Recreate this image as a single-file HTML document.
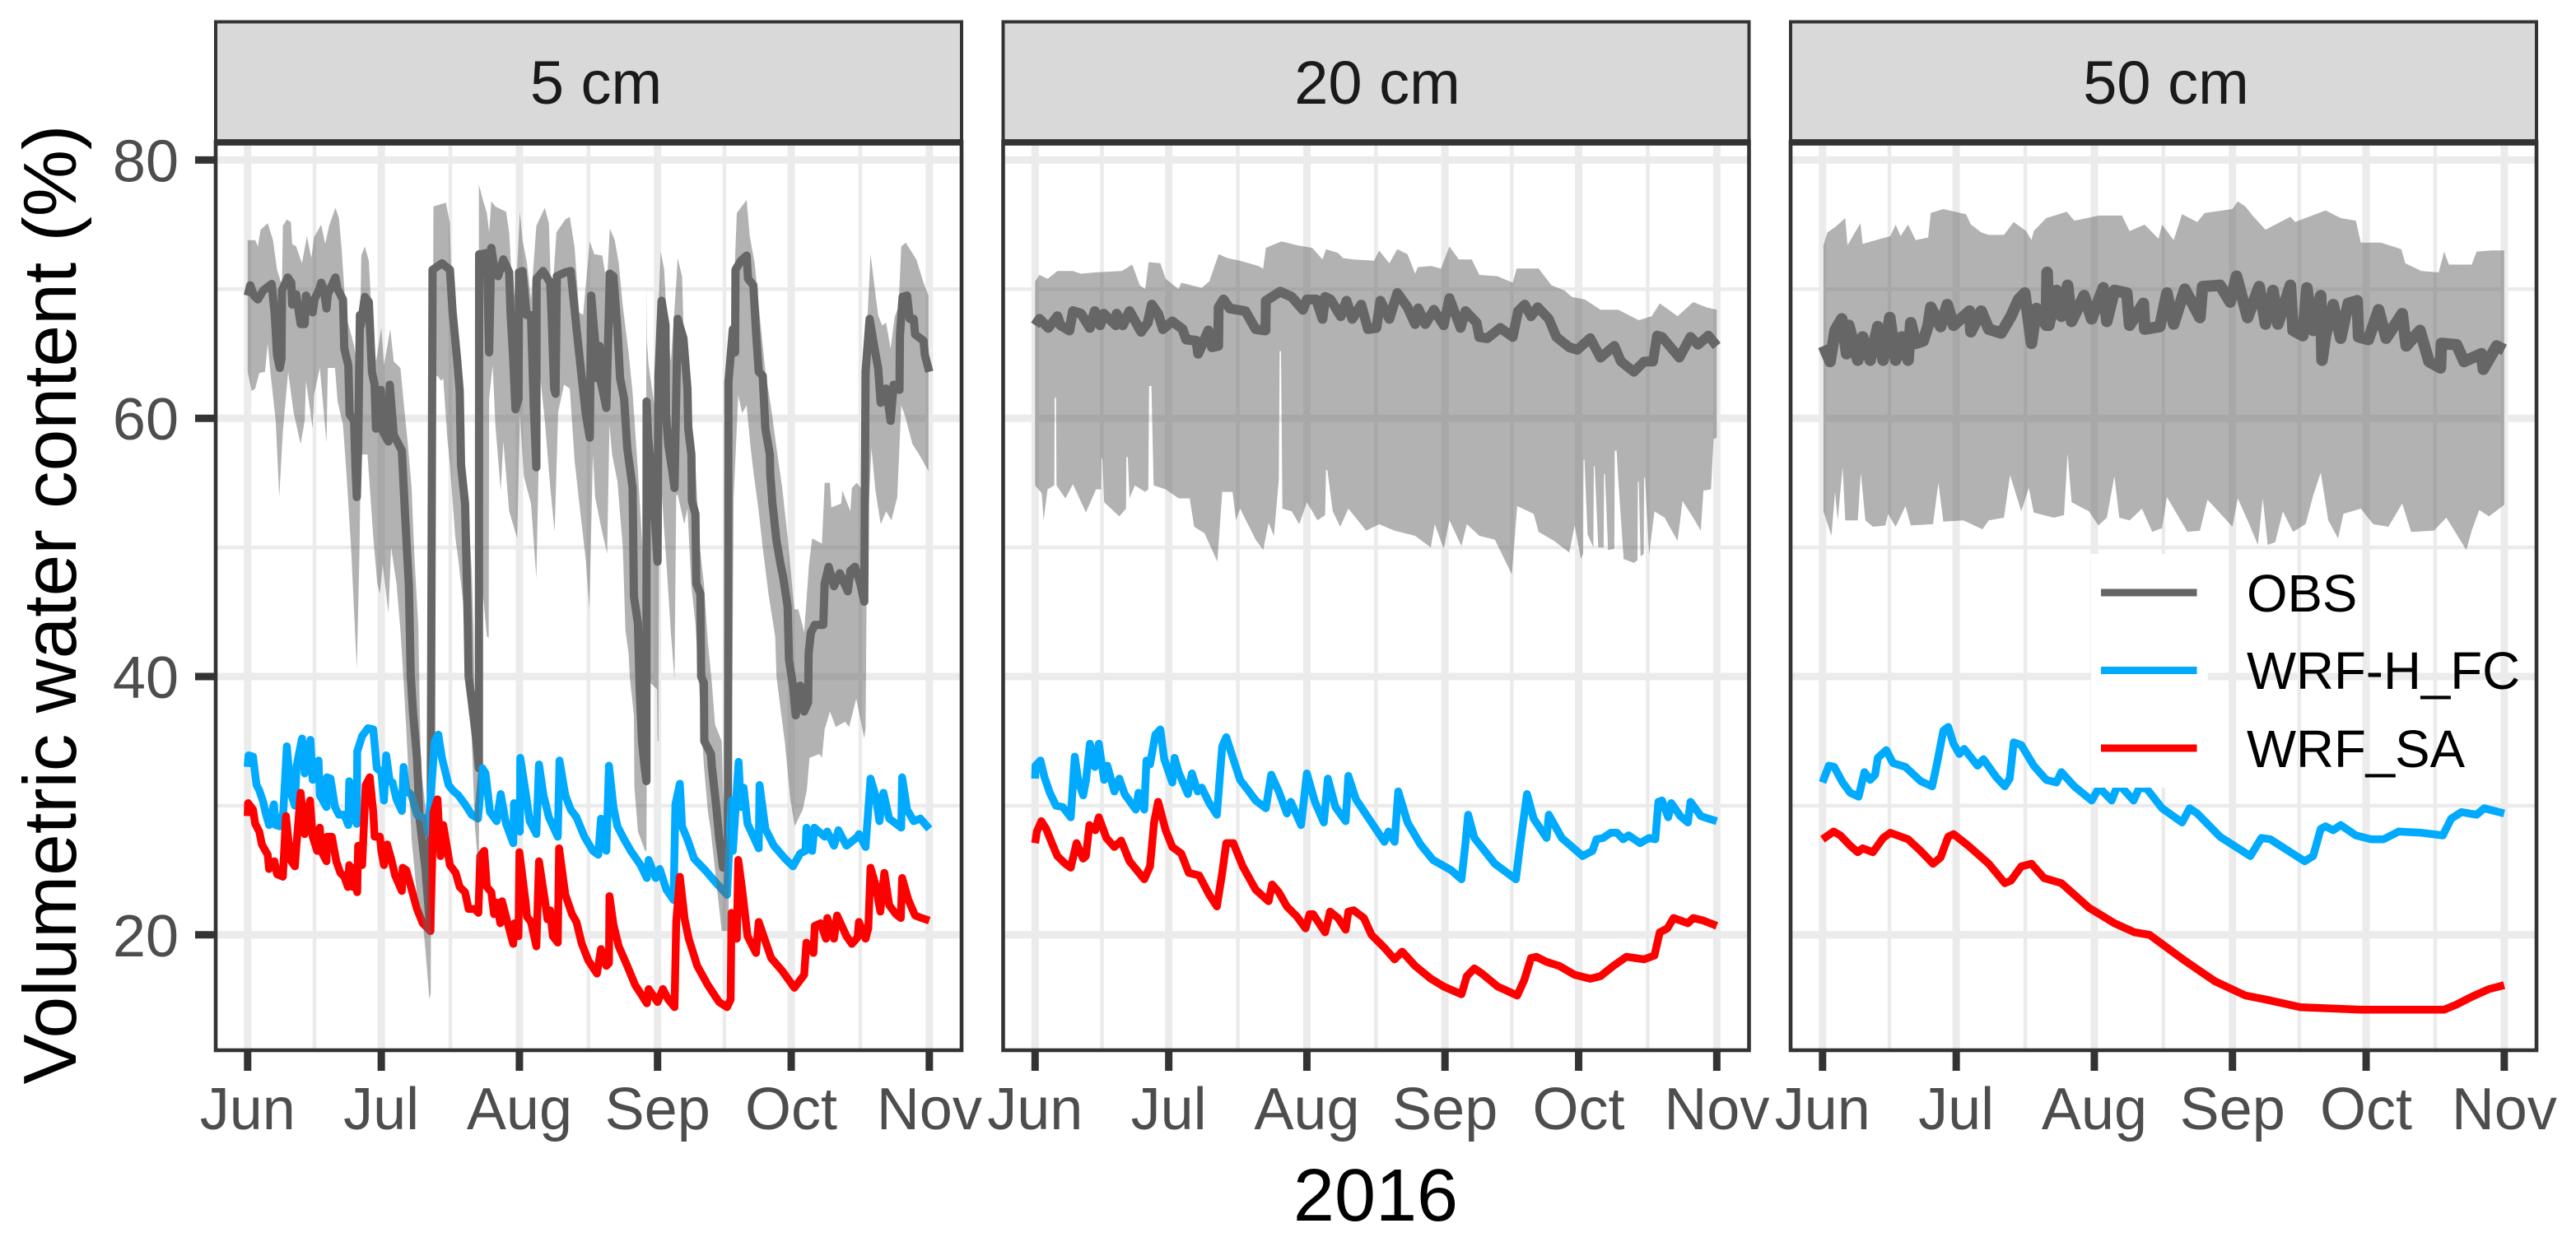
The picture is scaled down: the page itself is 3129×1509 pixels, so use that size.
<!DOCTYPE html>
<html lang="en">
<head>
<meta charset="utf-8">
<title>Volumetric water content at three depths, 2016</title>
<style>
html,body{margin:0;padding:0;background:#fff;}
svg{display:block;font-family:"Liberation Sans",Arial,sans-serif;}
</style>
</head>
<body>
<svg id="chart" xmlns="http://www.w3.org/2000/svg" width="3129" height="1509" viewBox="0 0 3129 1509">
  <defs id="clips"></defs>
  <rect x="0" y="0" width="3129" height="1509" fill="#fff"/>
  <g id="panels"></g>
  <text transform="translate(92,734.5) rotate(-90)" text-anchor="middle" font-size="91.2" fill="#000">Volumetric water content (%)</text>
  <text x="1671" y="1483" text-anchor="middle" font-size="90" fill="#000">2016</text>
  <g>
    <rect x="2540" y="673" width="142" height="284" fill="#fff"/>
    <line x1="2552" x2="2668.5" y1="720" y2="720" stroke="#666666" stroke-width="9"/>
    <line x1="2552" x2="2668.5" y1="814.5" y2="814.5" stroke="#00AAFF" stroke-width="9"/>
    <line x1="2552" x2="2668.5" y1="909" y2="909" stroke="#FF0000" stroke-width="9"/>
    <text x="2729" y="743" font-size="63.6" fill="#000">OBS</text>
    <text x="2729" y="837" font-size="63.6" fill="#000">WRF-H_FC</text>
    <text x="2729" y="932" font-size="63.6" fill="#000">WRF_SA</text>
  </g>
</svg>
<script>
// Categories and tick labels
const panelTitles = ["5 cm", "20 cm", "50 cm"];
const monthLabels = ["Jun", "Jul", "Aug", "Sep", "Oct", "Nov"];
const monthDays = [0, 30, 61, 92, 122, 153];
const minorDays = [15, 45.5, 76.5, 107, 137.5];
const yMajorTicks = [20, 40, 60, 80];
const yMinorTicks = [30, 50, 70];

// Each point is [days since 1 June 2016, volumetric water content in %]
const blue5 = [[0,33],[0.2,33.9],[1.2,33.8],[2,31.6],[2.6,31.2],[3.5,30.3],[4,29.5],[4.8,28.5],[5.9,30.1],[6.3,28.5],[7.2,28.4],[8,29.5],[8.8,34.6],[9.7,31],[10.6,30],[11,33.1],[12.2,35.2],[12.8,32.5],[14.1,35.1],[14.6,32],[15.9,33.5],[16.2,30.8],[17.7,29.9],[17.8,32.2],[18.6,32.1],[19.6,29.9],[20.5,29.3],[21.7,29.3],[22.6,28.5],[22.8,31.9],[23.6,29.3],[24.5,28.6],[24.6,34.2],[25.7,35.4],[27,36],[28.2,35.9],[29,32.9],[30,32.6],[30.6,30.4],[31.1,33.9],[31.9,31.9],[32.5,31.8],[33.4,30.5],[34.6,29.6],[35,33],[35.6,31.2],[36.8,30.8],[38,29.3],[39.9,29],[40.5,27.9],[42,35],[42.8,35.5],[43.6,33.7],[45.1,31.6],[46,31.2],[47.3,30.8],[48.8,30.1],[50.3,29.3],[51.7,29],[52.7,32.9],[53.4,32.5],[54.4,29.5],[55.9,28.8],[56.8,30.9],[58,28.6],[59.6,27.1],[59.8,30.2],[61.1,28],[61.2,33.7],[62.5,30.8],[63.3,28.8],[64.8,27.8],[65.4,33.2],[66.4,30.8],[67.6,29.1],[69.6,27.6],[70,33.5],[71.3,30.8],[72.5,29.7],[73.8,29.1],[75.6,27.6],[77.5,26.5],[78.7,26.2],[79.3,29],[80.5,26.5],[81.1,33.1],[82.1,29.9],[83,28.4],[84.5,27.4],[86,26.5],[88.2,25.4],[89.6,24.4],[90,25.8],[91.6,24.4],[92.5,25.1],[94,23.5],[95.6,22.7],[96,30.1],[97,31.7],[97.5,28.4],[98.7,27.4],[100.2,25.9],[102.7,25],[105.2,24],[107.6,23.1],[108.6,30.4],[108.9,26.5],[110.2,33.4],[110.7,29.9],[111.3,31.4],[112.2,28.6],[113.8,27.4],[114.7,26.7],[114.9,31.6],[116.2,28.2],[118.1,26.9],[120.6,25.9],[122.4,25.3],[124,26.3],[125.2,26.5],[125.4,28.3],[126.7,26.5],[127.2,28.3],[129.5,27.6],[130.1,28],[131.6,26.9],[132.6,28.1],[134.4,26.9],[136.9,27.6],[137.2,27.8],[138.7,26.8],[139.8,32.1],[140.9,30.8],[141.8,28.8],[142.7,31],[144,29],[146.7,28.3],[146.9,32.2],[148,29.7],[149.5,28.8],[151,29],[153,28.2]];

const red5 = [[0,29.2],[0.1,30.2],[1.2,29.7],[1.7,28.6],[2.6,28],[3.2,27],[4.5,26.2],[4.8,25.1],[6,25.7],[6.6,24.7],[7.9,24.5],[8.6,29.2],[9.4,26.5],[9.8,25.7],[10.6,25.3],[10.9,26.7],[11.9,31],[12.8,27.8],[14,30.4],[14.6,27.6],[15.6,26.5],[16.2,28.3],[16.5,26.5],[17.7,25.7],[17.8,27.6],[18.9,27.6],[19.9,25.7],[20.8,24.8],[21.7,24.5],[22.5,23.7],[22.8,25.4],[23.6,23.7],[23.9,25.2],[24.6,23.3],[24.8,26.9],[25.7,25.4],[26.5,31.6],[27.4,32.2],[28.2,29.5],[28.5,27.6],[29.7,27.6],[30,26.5],[30.6,25.4],[31.3,27],[32.2,25.9],[33.1,24.6],[34.6,23.4],[34.8,25.2],[35.6,25],[36.8,23.5],[38,22],[39.3,20.9],[41,20.3],[41.7,29.5],[42.6,30.5],[43.3,26.1],[43.9,28.5],[45.4,25.4],[46.7,24.8],[47.6,23.7],[48.8,23.3],[49.6,22],[51,22],[51.8,21.7],[52.2,26.1],[53.1,26.5],[53.7,23.7],[54.7,23.3],[55.3,21.6],[55.9,22.5],[56.7,20.9],[57.1,22.6],[58.3,21],[59.6,19.3],[59.9,20.9],[60.8,19.9],[61,26.4],[62.4,22.5],[62.7,21.4],[63.6,21],[64.8,19.1],[65.4,25.7],[66.7,22.7],[67.3,21.2],[67.9,21.9],[68.5,19.9],[69.6,19.4],[69.9,26.7],[71.3,23.1],[72.8,21.6],[73.8,21],[75,19.3],[76.5,18],[78.4,17],[79.3,18.9],[80.5,17.6],[81.1,17.8],[81.2,23],[82.1,20.8],[83.3,19.1],[85.2,17.6],[87,16.1],[88.5,15.3],[89.6,14.7],[90,15.8],[92,14.8],[93.2,15.8],[94.4,15],[95.8,14.4],[96.2,21],[97,24.5],[98.1,21.2],[99,19.7],[100.9,17.6],[103.3,16.1],[105.8,14.8],[107.6,14.4],[108.4,15],[108.6,21.7],[109.8,19.7],[110.1,25.8],[111,23.5],[112.2,19.9],[114.1,18.6],[114.7,21],[116,19.7],[117.5,18.2],[120,17.2],[122.7,15.9],[124.9,16.9],[125.4,19.4],[127,18.6],[127.3,20.7],[128.6,20.9],[129.8,19.7],[130.1,21.3],[131.6,19.7],[132.3,21.5],[134.4,19.9],[135.6,19.3],[136.9,19.8],[137.2,21],[138.7,19.7],[139.3,20.5],[139.8,25.2],[140.9,23.9],[142,21.8],[142.9,24.8],[144,22.3],[145.5,21.6],[146.6,21.3],[146.9,24.4],[148.3,22.7],[149.8,21.5],[151.3,21.3],[153,21.1]];

const obs5 = [[0,69.5],[0.6,70.3],[1.4,69.5],[2.3,69.2],[3.5,69.9],[5.4,70.4],[6.1,68],[6.6,64.9],[7.2,63.9],[7.6,64.6],[7.7,69.9],[9,70.9],[9.8,70.5],[10,68.8],[10.9,69.6],[11.9,67.3],[12.8,67.3],[13.1,69.5],[14.6,68.2],[15,69.2],[16.2,70.1],[16.5,70.5],[17.1,70],[17.7,68.5],[18,69.6],[19.7,70.9],[20.2,70],[21.4,69.2],[21.7,65.4],[22.6,64.1],[22.9,60.3],[23.9,59.8],[24.2,56.2],[24.5,53.9],[24.8,57.7],[25.2,68],[25.4,67.2],[26.3,69.4],[27.2,69],[27.9,63.6],[28.5,62.6],[28.8,59.2],[29.9,62.2],[30.3,59],[31.6,58.2],[31.9,62.6],[32.8,58.7],[34.6,57.5],[35.3,52.8],[36.2,47],[36.6,40.1],[37.1,37.3],[38,33.7],[38.6,29],[39.9,25.2],[41,20.3],[41.5,71.5],[43.6,72],[45.4,71.5],[46,68.2],[47,64.6],[47.6,62.1],[47.9,56.4],[48.8,53.4],[49.1,49],[49.4,44],[49.6,40],[51.1,35.9],[51.9,32.9],[51.95,72.7],[52.5,72.7],[53.7,72.8],[54.2,65.1],[54.7,73.2],[55.4,71.5],[56.2,71],[57.4,72.3],[58.7,71.3],[59,68.2],[59.6,64.6],[60.1,60.7],[60.8,61.5],[60.9,71.3],[61.7,71.4],[62.6,68],[63.6,68],[64.2,61],[64.8,56.2],[64.85,70.8],[66.3,71.4],[67.9,70.5],[68.2,68.2],[68.8,62.3],[69.1,61.9],[69.4,71],[71.3,71.3],[72.5,71.4],[73.8,67],[75,63.1],[75.9,60.3],[76.8,58.5],[77.1,69.5],[78,65.9],[78.4,63.1],[79,65.6],[79.3,62.8],[80.5,60.8],[81.3,71.2],[82.1,71],[83,66.9],[83.6,63.1],[84.5,61.5],[85.2,57.7],[86.4,54.6],[86.7,46.2],[87.6,44.1],[88,38.8],[88.5,35],[89.1,33],[89.5,31.9],[89.55,61.3],[89.9,58.5],[91,54.4],[92,48.9],[92.2,63.3],[92.9,69.1],[93.8,67.2],[93.9,60.3],[94.4,58],[95.3,55.9],[95.8,54.6],[96.5,67.7],[97.8,66.2],[98.7,62.3],[98.9,59.2],[99.6,57.2],[99.7,53.6],[100.5,52.6],[100.7,47.2],[101.6,46.4],[101.8,40],[102.4,39.5],[102.5,35],[104,34],[104.2,33],[105.2,29.9],[105.8,27.6],[106.7,25.2],[107.4,25.2],[107.8,25.3],[107.9,62.8],[108.9,66.9],[109.4,65.1],[109.5,71.5],[110.7,72.2],[112,72.6],[112.3,70.8],[113.5,70.3],[114.1,66.7],[114.7,63.6],[115.6,63.3],[116.2,59.2],[117.2,57.2],[117.3,55.7],[117.8,53.4],[118.7,50.5],[119.6,48.7],[120.2,47.7],[121.2,45.4],[121.5,41.3],[122.4,39.3],[123,37],[124,39.3],[124.9,37.3],[125.8,38],[125.9,41.8],[126.4,43.4],[127.3,44],[129.2,44],[129.5,47.2],[130.4,48.5],[131.6,47],[132.9,48],[134.7,46.6],[135.3,48.2],[136.3,48.5],[137.5,47.2],[138.4,45.8],[138.7,63.6],[139.6,67.7],[140.6,65.6],[141.5,63.9],[142.1,61.2],[143.3,62.3],[144.3,59.8],[145,62.6],[146.3,62.2],[146.4,66.4],[147,69.4],[148,69.5],[148.6,67.7],[149.5,67.7],[149.8,66.5],[151.7,66],[152,64.9],[153,63.6]];

const obsHigh5 = [[0,73.8],[1.7,73.8],[2.3,73.3],[2.9,74.6],[4.5,75.1],[5.7,73.8],[6.6,71.5],[7.7,70.3],[7.9,74.9],[8.8,75.4],[9.7,75.2],[10,73.5],[10.9,73.3],[12.2,72],[13.3,74.1],[14.3,72.4],[14.9,74],[16.5,75],[17.4,73.5],[18.3,74.9],[19.7,76.3],[20.5,75.5],[21.1,73.1],[21.7,70],[22.3,67.7],[23.9,65.6],[25.1,62.6],[25.5,72.6],[26.3,73.3],[27.2,72.2],[27.6,69.5],[28.8,64.4],[30,67],[30.6,64.1],[32,66.9],[32.8,64.4],[34.3,63.9],[35,61.3],[35.9,58.2],[36.8,54.6],[37.4,49.5],[38.3,43.9],[38.6,38],[38.9,33],[40.5,28],[41.1,20.3],[41.7,76.4],[44.5,76.7],[45.4,75.1],[45.7,71.3],[46.6,68.7],[47.3,64.4],[48,62.6],[48.5,56.9],[49.4,53.4],[50.3,48.2],[50.7,43.6],[51,37],[51.8,33],[51.9,78.1],[52.2,77.7],[52.8,76.9],[53.7,75.9],[54.2,74.4],[54.7,76.8],[55.6,76.4],[58,76],[58.7,74.4],[59.6,68.7],[60.5,71.8],[61.1,76],[61.7,73.8],[62.7,72],[63.6,69.2],[64.8,74.9],[66.7,76.3],[67.6,75.1],[68.2,68.7],[69.3,74.4],[71.3,75.4],[72.3,75.6],[73.4,73.2],[74.4,68.2],[75.3,68],[76.8,73.7],[77.8,72.7],[79.6,72.6],[80.2,71.3],[80.8,71.5],[81.3,74.7],[82.4,73.8],[83.3,72],[84.2,68.7],[85.5,65.1],[86.4,62],[87.6,55.9],[88.5,50.5],[89,47],[89.4,45],[89.45,60],[89.5,70.3],[89.6,66],[90,64.1],[91.3,61],[92.7,72.9],[93.5,71.5],[94.1,67.4],[95,64.4],[96.2,70.5],[96.5,72.4],[97.5,71],[97.8,67.4],[99,62],[100.2,58.2],[101.5,50],[102.4,47.2],[103.3,42.6],[104.2,39.5],[104.9,36.3],[106.4,35],[106.7,31],[107.6,27.5],[107.9,27],[108.2,60],[108.9,68],[109.8,75.9],[112,76.9],[112.7,74.1],[113.8,72],[115,67.7],[116.2,63.6],[117.5,60.8],[118.7,57.7],[120,54.6],[121.2,50.8],[122.7,45.2],[123.6,45.2],[124.6,43.9],[124.9,43.4],[126,48.7],[126.7,50.7],[128.9,50.3],[129.5,55],[130.7,55],[131,53.1],[133.2,53.4],[133.5,54.4],[135.3,52.8],[135.6,54.6],[136.7,55],[138.1,54.4],[138.4,62.6],[139.8,72.7],[140.6,70.5],[141.5,68],[142.4,67.2],[143.3,67.4],[144.3,65.4],[145.2,67.8],[146.1,68.7],[146.7,73.3],[147.7,73.6],[150.1,72.3],[151.7,70.5],[152.8,69.5]];

const obsLow5 = [[0,63.6],[0.9,62.1],[1.7,62.3],[2.6,63.5],[3.9,63.6],[4.5,65.8],[5.1,63.6],[6.3,59.8],[7.1,53.9],[7.9,59],[9.1,63.6],[10.3,60.5],[11.9,58],[12.8,59.8],[13.1,62.9],[14.6,59.2],[14.9,61.8],[16.2,63.9],[16.8,61.6],[17.7,58.1],[18,63.9],[19.6,63.9],[20.2,61.3],[21.4,59.5],[22.3,55.1],[23.2,50],[24.5,40.6],[25.1,49.5],[25.4,57.2],[26.9,57.2],[28.2,50.8],[29.1,47.2],[29.7,46.4],[30.3,48.7],[31.6,44.9],[32.2,50],[33.4,47.2],[34.3,43.6],[35,39.7],[35.6,35.9],[36.8,27.4],[38,23],[39.3,21],[39.9,18.9],[40.8,15],[41.1,15.5],[41.6,63],[42.6,63.3],[43.4,62.9],[43.9,63.1],[44.8,58.5],[45.4,56.4],[46.6,50.8],[47.3,49],[48.8,44.4],[49.1,39],[49.4,37.9],[50.3,35.2],[51,28.4],[51.9,24.8],[52.1,46],[52.8,46.4],[53.7,43.1],[54.1,43],[54.2,61.5],[55,64.1],[55.6,59.5],[56.8,54.4],[57.4,58.2],[58.7,52.8],[60.5,50.7],[61.1,60.3],[62,55.5],[63.6,53.4],[64.8,47.6],[65.7,63.1],[66.7,59.8],[67.9,54.7],[68.9,51.2],[69.7,60.5],[71,62.6],[72.3,62.3],[73.4,56.7],[74.7,52.6],[75.9,49],[76.7,45.2],[77.5,57.2],[78,53.9],[79.3,51.6],[80.7,49.5],[81.2,59.5],[81.8,57.2],[83,55.1],[84.2,50],[84.8,43.6],[85.5,41.8],[85.8,39.9],[86.7,37],[86.8,31.4],[87.6,28],[89.2,26.5],[89.5,26.5],[89.7,44],[90.4,39.5],[91.9,39],[92,35],[92.2,35],[92.4,60],[92.9,54.4],[94.1,48.2],[95,43.4],[95.8,39.8],[96.2,54],[96.5,54.1],[98,51.8],[98.7,53],[99.6,47],[100.5,44.1],[101.2,40],[102.4,33.1],[103.3,29.5],[103.9,28.2],[105.5,23.1],[106.4,20.3],[107.6,20.3],[107.9,20.3],[108.2,30],[108.8,40],[109.1,53.9],[110.1,61.8],[111,60.4],[112,61],[112.9,57.7],[113.5,55.9],[114.7,52.8],[115.6,50],[116.9,46.4],[118.4,43.1],[118.7,40],[120.6,34.8],[121.8,30.5],[122.8,28.4],[124.6,29.7],[125.5,31.2],[126.1,33.7],[128.3,34],[128.9,33.7],[129.5,35.9],[130.7,37.3],[132,36.1],[134.1,36.5],[135,36.1],[136.6,38.3],[137.5,36.7],[138.4,35.2],[138.7,36],[139,50],[140,57.7],[140.9,54.4],[142.1,51.8],[143.3,52.8],[144.5,52.1],[145.8,53.9],[146.7,61],[147.7,60],[149.2,58],[150.7,57.2],[152.8,55.9]];

const blue20 = [[0,32.1],[0.1,33.1],[1.2,33.5],[2.1,32.2],[3.3,31],[4.7,30],[6.2,29.9],[8,29.1],[8.9,33.8],[9.7,31.9],[10.8,30.8],[11.4,31.9],[12.3,34.8],[13.4,33],[14.3,34.8],[15.5,32],[16.2,33.1],[17.8,31.1],[18.9,32.1],[20.1,30.9],[22.6,29.7],[23.2,31],[24.5,29.7],[25,33.5],[25.8,33.2],[27,35.5],[28.1,35.9],[29,33.6],[30.8,31.8],[31.3,33.7],[32.2,32.6],[34.3,30.9],[35.2,32.5],[36.5,31.1],[37.4,31.4],[39.1,30.2],[40.8,29.3],[42,34.6],[42.9,35.3],[44.3,33.8],[46,32],[47.8,31.2],[49.5,30.4],[51.8,29.8],[53,32.4],[54.7,31.1],[56.5,29.4],[57.4,30.3],[59.7,28.5],[61,32.5],[62.8,30.3],[64.8,28.7],[65.7,32.1],[67.4,29.9],[69.7,28.8],[70.3,32.3],[72,30.5],[74.9,29],[78.4,27.2],[79.3,28],[80.7,27.2],[81.5,31.1],[83.6,28.7],[86.5,27],[89.3,25.8],[93.4,25],[95.7,24.3],[96.5,26.8],[97.2,29.3],[98.6,27.5],[103.2,25.5],[107.9,24.3],[108.8,26.8],[110.4,30.9],[111.9,29],[114.8,27.5],[115.3,29.3],[118.2,27.5],[122.9,26.1],[125.1,26.5],[126,27.4],[127.5,27.5],[129.2,27.9],[130.6,27.9],[132,27.4],[133.2,27.7],[135.8,27.1],[137.8,27.5],[139.2,27.4],[139.9,30.3],[140.7,30.4],[142.1,29.1],[142.8,30.2],[144.8,29.2],[146.5,28.7],[147.1,30.3],[149.4,29.2],[151.1,29],[153,28.8]];

const red20 = [[0,27.1],[0.4,28],[1.4,28.8],[2.5,28.2],[3.9,27],[5,26.1],[6.8,25.5],[8,25.2],[9.3,27.1],[10.8,25.9],[11.4,26.1],[12.2,28.5],[13.5,28.1],[14.3,29.1],[16,27.5],[17.8,26.8],[19.3,27.3],[21.2,25.7],[24.5,24.3],[25.8,25.3],[26.7,28.7],[27.6,30.3],[29.3,28.1],[30.8,26.8],[32.8,26.3],[34.5,24.8],[36.8,24.6],[39.1,23.1],[40.8,22.2],[42,24.8],[42.9,27.1],[44.5,27.1],[46.6,25.3],[49.5,23.5],[52.4,22.6],[53.2,23.9],[54.7,23.3],[56.5,22.2],[58.8,21.4],[60.7,20.5],[61.6,21.6],[62.4,21.6],[65.1,20.2],[66.2,21.8],[68,21.3],[69.7,20.4],[70.3,21.8],[71.5,21.9],[73.8,21.3],[75.5,20],[78.4,19],[80.7,18.1],[82.4,18.7],[85.3,17.6],[88.8,16.6],[91.7,16],[95.7,15.4],[96.9,16.8],[98.6,17.4],[100.3,17],[103.8,16],[108.2,15.3],[109.8,16.5],[111.3,18.2],[112.5,18.3],[114.8,17.9],[117.6,17.6],[121.1,16.9],[124.6,16.6],[126.9,16.8],[129.8,17.6],[132.7,18.3],[136.7,18.1],[139,18.4],[140.2,20.2],[141.9,20.5],[143.3,21.3],[146.5,20.9],[147.7,21.3],[150,21.1],[153,20.7]];

const obs20 = [[0,67.2],[1,67.7],[3,67],[5,67.9],[5.7,67.2],[7.7,66.8],[8.5,68.3],[10.3,68.1],[12.3,67],[13.4,68.3],[14.6,67.2],[15.4,68.1],[18.1,67.2],[18.3,68.1],[19.7,67.2],[21.2,68.3],[23.8,66.7],[25.3,67.4],[26.2,68.8],[27.6,68.1],[28.7,66.9],[30.8,67.5],[33.1,66.9],[33.9,66.1],[36.2,66],[36.6,65],[38.9,66.8],[39.7,65.5],[41.1,65.6],[41.2,68.6],[42.3,69.2],[43.7,68.5],[47.2,68.3],[49.5,66.9],[51.7,66.8],[51.8,69.1],[55,69.8],[57.6,69.4],[60.1,68.4],[61,69.2],[63.1,69.2],[64.5,67.7],[65.1,69.4],[66.3,69.2],[68.6,67.9],[69.9,69.1],[71.2,67.7],[73.2,68.8],[74.7,66.9],[76.6,67],[77.5,69.1],[79.5,67.7],[81.3,69.7],[83.6,68.6],[85.3,67.3],[86,68.5],[87.6,67.3],[89.5,68.4],[91.7,67.2],[93,69.3],[95.5,67],[96.6,68.3],[99.1,67.4],[99.7,66.3],[101.5,66.2],[104.4,67],[107.2,66.3],[108.4,68.3],[109.9,68.8],[111.3,67.9],[112.8,68.6],[115.3,67.7],[117,66.3],[119.9,65.5],[121.7,65.3],[124.6,66.2],[126.9,64.7],[130,65.6],[131.5,64.4],[134.4,63.6],[136.7,64.4],[138.7,64.4],[139.6,66.4],[140.7,66.3],[144.6,64.7],[147.1,66.3],[148.8,65.7],[151.1,66.4],[153,65.6]];

const obsHigh20 = [[0,70.6],[1,71.1],[2.8,70.8],[5,71.4],[8.5,71.4],[10.3,71.2],[13.7,71.3],[19.5,71.4],[21.8,71.9],[23.5,70.3],[24.7,70],[25.5,72.1],[28.1,72],[29.3,70.8],[32.2,70],[32.8,70.5],[37.4,70.1],[39.1,70.6],[41.2,72.7],[43.2,72.4],[46,72.2],[50.1,71.8],[51.2,71.6],[51.8,73.2],[55.3,73.7],[58.8,73.4],[62.2,73.2],[64.5,72.3],[65.3,73.1],[68,72.8],[69.1,72.4],[71.5,72.3],[76.1,72.2],[77.2,73],[79.5,72],[81.3,73.1],[83.6,72.7],[85.3,71.2],[85.9,71.7],[88.8,71.8],[91.1,71.6],[93,73.3],[95.1,72.3],[98,72.3],[99.7,71.1],[103.8,71],[107.2,70.5],[108.1,71.6],[113,71.6],[115.9,70.3],[118.8,69.9],[120.5,69.4],[123.4,69.2],[126.9,68.4],[130.9,68.4],[135.5,67.6],[138.4,67.9],[140.2,68.9],[144.2,67.9],[147.7,69],[150.6,68.6],[153,68.4]];

const obsLow20 = [[0,54.8],[1.5,54.2],[1.9,52.1],[2.8,54.5],[4.3,54.8],[4.4,61.6],[4.7,61.6],[4.8,54.8],[6.8,53.8],[8.5,54.9],[11.4,52.7],[13.7,54.5],[14.8,54.5],[14.9,56.9],[15.1,56.9],[15.5,53.5],[18.9,52.4],[20.4,53],[20.5,57],[20.8,57],[21.2,53.8],[22.4,54.8],[24.7,54.3],[25.4,54.5],[25.6,62.5],[26.1,62.5],[26.6,54.8],[29.3,54.5],[32.2,53.8],[34.7,53.8],[35.7,51.6],[38,51.1],[40.9,48.9],[42,54.3],[44.3,54.3],[45.1,52.1],[46,53],[49.5,50.6],[51.2,49.8],[52.4,51.9],[53.6,50.9],[54.7,55.2],[54.9,65.2],[55.2,65.2],[55.5,53],[57.6,52.8],[59.3,51.8],[61,53.5],[63.4,52.1],[65.1,52.5],[65.3,56],[65.6,56],[66.8,52.8],[68.5,51.6],[70.3,53],[74.3,51.3],[77.2,51.8],[80.7,51.3],[85.3,50.9],[88.8,50],[89.7,51.8],[91.7,49.9],[93,52.1],[95.7,50.1],[96.9,51.8],[99.7,50.9],[103.2,50.6],[104.9,49.4],[107,47.9],[108.2,53.2],[111.9,52.6],[113,51.2],[116.5,50.5],[119.9,49.6],[121.1,51.7],[122.5,49.1],[123,49.5],[123.1,56.8],[123.3,56.8],[124,51],[125.3,50],[125.4,56.3],[125.6,56.3],[126.4,50],[127.6,50],[127.7,55.7],[127.9,55.7],[128.6,49.8],[130,49.9],[130.1,57.5],[130.5,57.5],[130.9,55.2],[132.1,49.1],[134.4,48.8],[135.2,49],[135.3,55.1],[135.5,55.1],[135.9,49.3],[136.6,49.5],[136.7,55.4],[136.9,55.4],[137.8,49.4],[139,52.8],[141.3,52.3],[144.2,50.5],[145.3,53.6],[147.7,52.3],[149.4,51.3],[150,54.4],[151.7,54.5],[152.3,58.4],[153,58.5]];

const blue50 = [[0,31.8],[1.4,33.1],[2.6,33],[4.5,31.8],[6.2,31],[8.1,30.7],[9.4,32.6],[10.7,32],[11.8,32.4],[12.4,33.7],[14.3,34.3],[15.8,33.3],[18.6,33],[22,31.9],[24.6,31.5],[25.6,33.1],[27.1,35.8],[28.2,36.1],[29.4,34.8],[30.7,34],[31.8,34.4],[34.8,33.1],[36.1,33.6],[39,32.2],[40.9,31.5],[42,32.1],[42.9,34.9],[44.6,34.7],[47.4,33.1],[50.2,32],[52.5,31.8],[53.6,32.6],[56.5,31.5],[60.4,30.4],[62.1,31.4],[64.9,30.4],[66,31.4],[67.2,31.4],[69.8,30.4],[71.1,31.4],[72.8,31.3],[76.2,29.8],[80.7,28.7],[82.4,29.8],[84.1,29.4],[89.2,27.6],[96,26.1],[98.5,27.5],[100.5,27.4],[108.2,25.7],[110.1,26.1],[111.8,28.2],[112.9,28.4],[114.6,28.1],[116.3,28.5],[119.7,27.7],[123.1,27.4],[125.9,27.4],[129.3,28],[134.4,27.9],[139.2,27.7],[141.1,29],[143.4,29.5],[146.8,29.3],[148.5,29.8],[153,29.4]];

const red50 = [[0,27.4],[2.5,28],[4,27.7],[6.2,26.9],[7.9,26.4],[9,26.7],[11.3,26.4],[13.6,27.5],[15.2,27.9],[19.2,27.4],[22,26.5],[24.8,25.5],[26.5,26],[28.2,27.6],[29.4,27.8],[32.7,26.9],[37.3,25.5],[40.9,24],[42.3,24.2],[44.6,25.3],[46.9,25.5],[49.7,24.4],[53.6,24],[59.8,22.1],[65.5,20.9],[70,20.2],[73.4,20],[81.3,18],[88.1,16.4],[94.9,15.3],[99.4,15],[107.3,14.4],[120.8,14.2],[139.5,14.2],[142.3,14.6],[145.7,15.2],[149.6,15.8],[153,16.1]];

const obs50 = [[0.2,65.6],[1.7,64.4],[2.8,66.8],[4.3,67.7],[5.4,65],[5.9,67.2],[7.9,64.5],[9,66.3],[10.7,64.5],[12.4,67.1],[13.6,64.5],[15.1,67.8],[16.4,64.5],[17.8,66.3],[19.2,64.5],[19.8,67.4],[20.9,65.8],[22.6,66],[23.7,67.2],[24.3,68.6],[26.5,67.1],[28,68.8],[29.4,67.2],[33,68.3],[33.3,66.7],[35.6,68.3],[37.3,66.9],[40.1,66.6],[42.3,67.9],[44,69.2],[45.4,69.7],[46.9,65.8],[48,68.5],[50.2,67.2],[50.4,71.3],[50.8,67.2],[52.5,69.9],[53.6,67.9],[55,70.3],[55.9,67.5],[58.7,69.5],[60.4,67.7],[63,70.1],[63.8,67.5],[65.5,69.9],[68.3,69.7],[68.9,67.2],[72,68.9],[72.3,66.9],[75.7,67.1],[77.3,69.7],[78.8,67.3],[81.3,70],[84.7,67.8],[85.3,70.2],[89.2,70.3],[91.5,69],[92.9,71],[95.4,67.8],[98,70.2],[99.4,67.3],[101.1,69.9],[102.2,67.3],[105,70.3],[105.6,66.8],[107.8,66.4],[108.7,70.1],[110.1,66.8],[111.8,69.5],[112.1,64.5],[112.9,66.4],[114.6,68.8],[116.3,66.2],[118,68.9],[120,69.1],[120.3,66.3],[122.5,66.1],[124.8,68.4],[126.5,66.2],[130.1,68.1],[131,65.6],[134.1,66.8],[136.1,64.4],[138.7,63.9],[138.9,65.8],[142.3,65.7],[144,64.4],[147.9,65],[148.3,63.8],[151.3,65.6],[153,65.3]];

const obsHigh50 = [[0.2,73.4],[1.1,74.4],[2.8,74.8],[5.1,75.5],[5.6,73.4],[8.5,75.1],[9,73.5],[13,73.9],[15.2,74.1],[16.4,75],[17.5,74.1],[19.2,75],[20.9,73.8],[23.7,74],[24.3,75.9],[27.1,76.2],[32.2,75.8],[33.3,75],[35.6,74.4],[37.3,74.2],[40.7,74.2],[42.9,75.2],[45.7,74.5],[46.9,73.8],[47.4,74.5],[50.2,75.5],[54.8,76],[56.5,75.3],[62.1,75.7],[67.2,75.7],[68.9,74.5],[72.3,75],[75.4,73.9],[76.2,75],[78.8,73.8],[80.7,75.8],[84.1,75.2],[85.8,75.9],[92,76.2],[93.2,76.8],[94.9,76.4],[96.5,75.7],[99.4,74.6],[102.2,75.1],[105,75.6],[106.1,75.2],[112.9,76.1],[116.3,75.5],[119.7,75.3],[120.8,73.6],[125.3,73.6],[129.9,73.1],[130.8,72],[134.4,71.4],[138.3,71.3],[139.5,72.9],[140.6,71.9],[145.7,71.9],[146.8,72.9],[150.2,73],[153,73]];

const obsLow50 = [[0.2,52.8],[2,50.9],[2.8,54.3],[3.4,52.1],[4.5,56.2],[5.1,52.1],[7.9,52.1],[8.6,55.8],[9.6,52.1],[11.3,51.6],[14.1,51.7],[14.7,52.6],[16.4,51.6],[18.6,53.2],[19.8,51.7],[24.8,51.8],[26,55],[27.1,52],[31.6,52.1],[35.9,51.4],[37.3,52.1],[40.7,52.3],[42.1,55.6],[44.6,52.8],[46.3,54.6],[47.4,52.7],[51.9,52.3],[54.2,52.5],[55,57.3],[55.9,53.5],[59.8,52.8],[61.9,51.7],[63.8,52.3],[65.5,55.5],[66.6,52.3],[68.9,52.1],[71.7,53],[74,51.2],[76.2,51.5],[77.3,53.9],[81.9,51.2],[84.7,51.3],[86.4,53.7],[92,51.6],[93.2,53.8],[95.4,52.1],[97.7,50.2],[98.8,53.8],[99.9,50.2],[101.6,50.4],[103.3,52.8],[105.6,51.2],[108.4,51.8],[110.1,54],[111.8,55.8],[113.5,52.1],[115.7,50.7],[116.9,52.6],[120.8,53],[123.6,51.8],[127,51.6],[130.1,53.4],[132.1,51.2],[137.2,51.3],[140,52.3],[144.5,49.8],[145.7,51.3],[147.4,52.9],[149.6,52.4],[153,53.3]];

// Axis scales
const panelLefts = [262, 1218.5, 2175];
const panelWidth = 906;
const panelTop = 172;
const panelBottom = 1276;
const stripTop = 26.5;
const xOffset = 38.8;
const pxPerDay = 5.412;
const y80 = 194.4;
const pxPerUnit = 15.69;
const stripLabelShift = [9, 1.5, 3];
const obsStroke = [10, 12, 14];
const modelStroke = [9.5, 9.5, 9.5];
const xScale = (left, day) => left + xOffset + day * pxPerDay;
const yScale = value => y80 + (80 - value) * pxPerUnit;

const NS = "http://www.w3.org/2000/svg";
const panelsGroup = document.getElementById("panels");
const clipDefs = document.getElementById("clips");

function make(parent, tag, attrs) {
  const el = document.createElementNS(NS, tag);
  for (const key in attrs) el.setAttribute(key, attrs[key]);
  parent.appendChild(el);
  return el;
}
function linePath(points, left) {
  return points.map((p, i) => (i ? "L" : "M") + xScale(left, p[0]).toFixed(1) + " " + yScale(p[1]).toFixed(1)).join("");
}
function ribbonPath(high, low, left) {
  const lower = low.slice().reverse().map(p => "L" + xScale(left, p[0]).toFixed(1) + " " + yScale(p[1]).toFixed(1)).join("");
  return linePath(high, left) + lower + "Z";
}

function drawPanel(index, obs, blue, red, high, low) {
  const left = panelLefts[index];
  const right = left + panelWidth;
  const slug = panelTitles[index].replace(" ", "");

  const panel = make(panelsGroup, "g", {});
  
  

  const clip = make(clipDefs, "clipPath", { id: "clip-" + index });
  make(clip, "rect", { x: left, y: panelTop, width: panelWidth, height: panelBottom - panelTop });

  yMinorTicks.forEach(v => {
    const g = make(panel, "line", { x1: left, x2: right, y1: yScale(v), y2: yScale(v), stroke: "#ebebeb", "stroke-width": 4.5 });
    
    
  });
  minorDays.forEach(d => {
    const g = make(panel, "line", { x1: xScale(left, d), x2: xScale(left, d), y1: panelTop, y2: panelBottom, stroke: "#ebebeb", "stroke-width": 4.5 });
    
    
  });
  yMajorTicks.forEach(v => {
    const g = make(panel, "line", { x1: left, x2: right, y1: yScale(v), y2: yScale(v), stroke: "#ebebeb", "stroke-width": 9 });
    
    
  });
  monthDays.forEach(d => {
    const g = make(panel, "line", { x1: xScale(left, d), x2: xScale(left, d), y1: panelTop, y2: panelBottom, stroke: "#ebebeb", "stroke-width": 9 });
    
    
  });

  const marks = make(panel, "g", { "clip-path": "url(#clip-" + index + ")" });
  
  

  const obsLine = make(marks, "path", { d: linePath(obs, left), fill: "none", stroke: "#666666", "stroke-width": obsStroke[index], "stroke-linejoin": "round" });
  
  

  const blueLine = make(marks, "path", { d: linePath(blue, left), fill: "none", stroke: "#00AAFF", "stroke-width": modelStroke[index], "stroke-linejoin": "round" });
  
  

  const redLine = make(marks, "path", { d: linePath(red, left), fill: "none", stroke: "#FF0000", "stroke-width": modelStroke[index], "stroke-linejoin": "round" });
  
  

  const ribbon = make(marks, "path", { d: ribbonPath(high, low, left), fill: "#666666", "fill-opacity": 0.5, stroke: "none" });
  
  

  const strip = make(panel, "rect", { x: left, y: stripTop, width: panelWidth, height: panelTop - stripTop, fill: "#d9d9d9", stroke: "#333333", "stroke-width": 4 });
  
  

  const stripText = make(panel, "text", { x: left + panelWidth / 2 + stripLabelShift[index], y: 126, "text-anchor": "middle", "font-size": 74, fill: "#1a1a1a" });
  stripText.textContent = panelTitles[index];
  
  

  const border = make(panel, "rect", { x: left, y: panelTop, width: panelWidth, height: panelBottom - panelTop, fill: "none", stroke: "#333333", "stroke-width": 4.6 });
  
  

  const stripRule = make(panel, "line", { x1: left - 2, x2: right + 2, y1: 173, y2: 173, stroke: "#333333", "stroke-width": 7.7 });
  
  

  monthDays.forEach((d, i) => {
    const tick = make(panel, "line", { x1: xScale(left, d), x2: xScale(left, d), y1: panelBottom, y2: panelBottom + 25, stroke: "#333333", "stroke-width": 9 });
    
    
    const label = make(panel, "text", { x: xScale(left, d), y: 1372, "text-anchor": "middle", "font-size": 72, fill: "#4d4d4d" });
    label.textContent = monthLabels[i];
    
    
  });

  if (index === 0) {
    yMajorTicks.forEach(v => {
      const tick = make(panel, "line", { x1: left - 25, x2: left, y1: yScale(v), y2: yScale(v), stroke: "#333333", "stroke-width": 9 });
      
      
      const label = make(panel, "text", { x: 217, y: yScale(v) + 26, "text-anchor": "end", "font-size": 72, fill: "#4d4d4d" });
      label.textContent = String(v);
      
      
    });
  }
}

drawPanel(0, obs5, blue5, red5, obsHigh5, obsLow5);
drawPanel(1, obs20, blue20, red20, obsHigh20, obsLow20);
drawPanel(2, obs50, blue50, red50, obsHigh50, obsLow50);
</script>
</body>
</html>
